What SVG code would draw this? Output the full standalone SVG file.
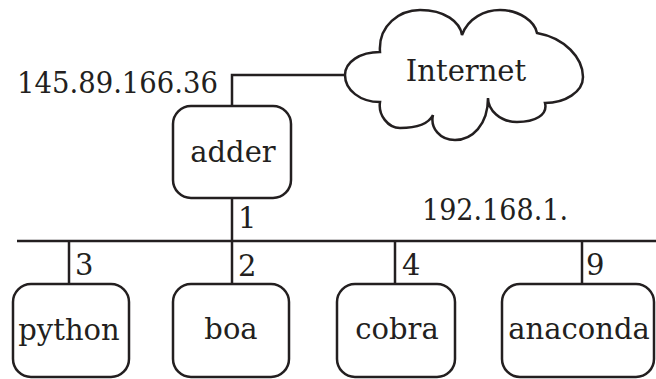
<svg xmlns="http://www.w3.org/2000/svg" width="656" height="379" viewBox="0 0 656 379">
<style>
  .box { fill: #fff; stroke: #231f20; stroke-width: 2.5; }
  .ln { fill: none; stroke: #231f20; stroke-width: 2.5; }
  text { font-family: "DejaVu Serif", "Liberation Serif", serif; font-size: 29px; fill: #231f20; }
  .c { text-anchor: middle; }
</style>
<rect width="656" height="379" fill="#fff"/>
<g id="connectors">
  <polyline class="ln" points="232,106 232,75 345,75"/>
  <line class="ln" x1="17" y1="241" x2="656" y2="241"/>
  <line class="ln" x1="232" y1="198" x2="232" y2="284"/>
  <line class="ln" x1="69" y1="241" x2="69" y2="284"/>
  <line class="ln" x1="395" y1="241" x2="395" y2="284"/>
  <line class="ln" x1="582" y1="241" x2="582" y2="284"/>
  <text x="238" y="228">1</text>
  <text x="75" y="275">3</text>
  <text x="238" y="276">2</text>
  <text x="402" y="275">4</text>
  <text x="586" y="275">9</text>
  <text x="422" y="220" textLength="146" lengthAdjust="spacingAndGlyphs">192.168.1.</text>
  <text x="17" y="93" textLength="201" lengthAdjust="spacingAndGlyphs">145.89.166.36</text>
</g>
<g id="internet">
  <path class="ln" d="M 380,52 C 378,25 400,10 420,10 C 445,10 460,22 462,35 C 468,18 485,10 500,10 C 520,10 535,22 537,33 C 565,38 583,58 583,77 C 583,92 565,103 545,103 C 548,115 535,122 517,122 C 500,122 488,110 488,98 C 488,125 472,140 455,140 C 440,140 430,128 433,115 C 428,125 415,128 400,128 C 388,128 378,115 380,102 C 360,102 345,90 345,75 C 345,62 360,52 380,52 Z" fill="#fff"/>
  <text class="c" x="466" y="81" font-size="30">Internet</text>
</g>
<g id="adder">
  <rect class="box" x="173" y="106" width="118" height="92" rx="18"/>
  <text class="c" x="233" y="162">adder</text>
</g>
<g id="python">
  <rect class="box" x="13" y="284" width="116" height="93" rx="18"/>
  <text class="c" x="69" y="340">python</text>
</g>
<g id="boa">
  <rect class="box" x="173" y="284" width="116" height="93" rx="18"/>
  <text class="c" x="231" y="339">boa</text>
</g>
<g id="cobra">
  <rect class="box" x="337" y="284" width="118" height="93" rx="18"/>
  <text class="c" x="397" y="339">cobra</text>
</g>
<g id="anaconda">
  <rect class="box" x="502" y="284" width="152" height="93" rx="18"/>
  <text class="c" x="579" y="339">anaconda</text>
</g>
</svg>
